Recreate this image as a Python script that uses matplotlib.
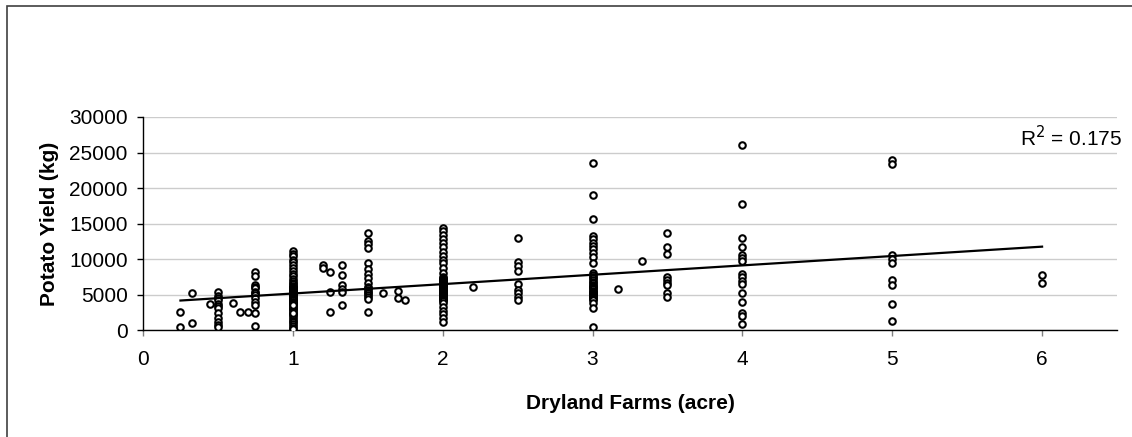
import matplotlib
matplotlib.use('Agg')
import matplotlib.pyplot as plt
import matplotlib.patches as mpatches
import numpy as np

plt.rcParams.update({
    'font.family': ['Liberation Sans', 'DejaVu Sans'],
    'font.size': 15,
})

# ── Data (acre, kg) ───────────────────────────────────────────
x_025 = [0.25, 0.25]
y_025 = [2600, 400]
x_033 = [0.33, 0.33]
y_033 = [5300, 1000]
x_045 = [0.45]
y_045 = [3700]
x_050 = [0.5] * 12
y_050 = [5350, 4880, 4600, 4270, 3710, 3400, 3100, 2480, 1690, 1220, 750, 510]
x_small = [0.6, 0.65, 0.7]
y_small = [3850, 2530, 2530]
x_075 = [0.75] * 13
y_075 = [8200, 7700, 6370, 6100, 5900, 5430, 5200, 4970, 4500, 4030, 3570, 2500, 560]
x_100 = [1.0] * 55
y_100 = [11100, 10750, 10400, 9950, 9600, 9150, 8800, 8350, 7950, 7600,
         7250, 6900, 6650, 6500, 6300, 6150, 6050, 5900, 5800, 5650,
         5550, 5400, 5300, 5200, 5100, 4950, 4850, 4750, 4650, 4500,
         4400, 4300, 4200, 4050, 3950, 3800, 3700, 3500, 3300, 3150,
         3050, 2800, 2600, 2350, 2100, 1850, 1600, 1350, 1100, 850,
         600, 350, 150, 2500, 3600]
x_12 = [1.2, 1.2, 1.25, 1.25, 1.25]
y_12 = [9190, 8730, 8170, 5440, 2580]
x_133 = [1.33] * 6
y_133 = [9150, 7800, 6400, 5850, 5400, 3600]
x_150 = [1.5] * 18
y_150 = [13750, 12570, 12100, 11630, 9430, 8590, 7880, 7320, 6620, 6140,
         5900, 5670, 5450, 5210, 4900, 4730, 4360, 2620]
x_mid = [1.6, 1.7, 1.7, 1.75]
y_mid = [5210, 5530, 4590, 4270]
x_200 = [2.0] * 46
y_200 = [14400, 13980, 13420, 12810, 12250, 11690, 11070, 10460, 9900, 9430,
         8730, 8110, 7550, 7350, 7200, 7050, 6900, 6750, 6620, 6500,
         6400, 6250, 6140, 6000, 5900, 5780, 5670, 5550, 5450, 5320,
         5210, 5100, 4980, 4850, 4730, 4600, 4500, 4400, 4270, 4100,
         3800, 3240, 2720, 2250, 1780, 1200]
x_22 = [2.2]
y_22 = [6140]
x_250 = [2.5] * 9
y_250 = [13040, 9660, 9050, 8390, 6520, 5670, 5210, 4740, 4270]
x_300 = [3.0] * 37
y_300 = [23500, 19000, 15600, 13280, 12810, 12340, 11870, 11400, 10840, 10280,
         9430, 8110, 7800, 7550, 7300, 7080, 6850, 6620, 6400, 6250,
         6140, 5900, 5750, 5580, 5450, 5350, 5200, 5110, 4950, 4800,
         4650, 4500, 4350, 4200, 3890, 3100, 450]
x_3x = [3.17, 3.33]
y_3x = [5860, 9760]
x_350 = [3.5] * 9
y_350 = [13660, 11770, 10740, 7550, 7100, 6700, 6400, 5300, 4650]
x_400 = [4.0] * 16
y_400 = [26090, 17740, 13040, 11770, 10600, 10150, 9700, 7930, 7460, 7000,
         6540, 5210, 3940, 2390, 2010, 840]
x_500 = [5.0] * 9
y_500 = [23980, 23420, 10600, 10000, 9430, 7080, 6380, 3700, 1310]
x_600 = [6.0, 6.0]
y_600 = [7790, 6620]

acres = np.array(x_025 + x_033 + x_045 + x_050 + x_small + x_075 + x_100 + x_12
                 + x_133 + x_150 + x_mid + x_200 + x_22 + x_250 + x_300 + x_3x
                 + x_350 + x_400 + x_500 + x_600)
yield_kg = np.array(y_025 + y_033 + y_045 + y_050 + y_small + y_075 + y_100 + y_12
                    + y_133 + y_150 + y_mid + y_200 + y_22 + y_250 + y_300 + y_3x
                    + y_350 + y_400 + y_500 + y_600)

r2_label = 'R$^2$ = 0.175'
y_ticks = [0, 5000, 10000, 15000, 20000, 25000, 30000]
x_ticks = [0, 1, 2, 3, 4, 5, 6]

# ── Figure ────────────────────────────────────────────────────
W, H = 1132, 437
fig = plt.figure(figsize=(W / 100, H / 100), dpi=100)
fig.patch.set_facecolor('white')

# chart-area frame (left & top edges visible, rest cut off)
frame = mpatches.Rectangle((7 / W, -0.2), 1.2, 1.2 - 6 / H,
                           transform=fig.transFigure, fill=False,
                           edgecolor='#404040', linewidth=1.2)
fig.patches.append(frame)

ax = fig.add_axes([143 / W, 1 - 330.3 / H, (1117 - 143) / W, (330.3 - 117) / H])

ax.scatter(acres, yield_kg, s=22, facecolors='white', edgecolors='black',
           linewidths=1.5, zorder=3)

# linear trend line
slope, icpt = np.polyfit(acres, yield_kg, 1)
xl = np.array([acres.min(), acres.max()])
ax.plot(xl, slope * xl + icpt, color='black', linewidth=1.6, zorder=4)

ax.set_xlim(0, 6.5)
ax.set_ylim(0, 30000)
ax.set_xticks(x_ticks)
ax.set_yticks(y_ticks)
ax.set_yticklabels([str(v) for v in y_ticks])
ax.yaxis.grid(True, color='#cccccc', linewidth=1.0, zorder=0)
ax.set_axisbelow(True)

for s in ['top', 'right']:
    ax.spines[s].set_visible(False)
ax.spines['left'].set_linewidth(1.0)
ax.spines['bottom'].set_linewidth(1.0)

ax.tick_params(axis='y', direction='out', length=4, width=1, color='black',
               pad=7, labelsize=15)
ax.tick_params(axis='x', direction='out', length=4, width=1, color='#808080',
               pad=10, labelsize=15)

ax.set_ylabel('Potato Yield (kg)', fontsize=15, fontweight='bold', labelpad=7)
ax.set_xlabel('Dryland Farms (acre)', fontsize=15, fontweight='bold', labelpad=18)

ax.text(1.005, 0.905, r2_label, transform=ax.transAxes, ha='right',
        va='center', fontsize=15)

plt.savefig('out.png', dpi=100, facecolor='white')
plt.close()
